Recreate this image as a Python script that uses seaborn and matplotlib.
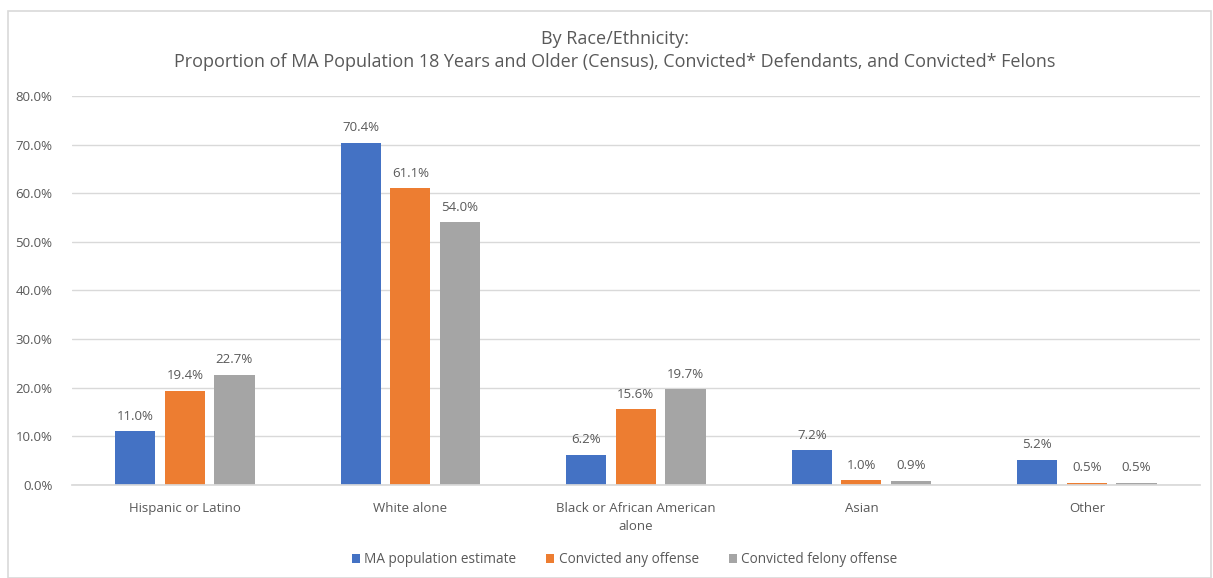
import matplotlib
matplotlib.use("Agg")
import matplotlib.pyplot as plt
import seaborn as sns
import pandas as pd
from matplotlib.patches import Rectangle
from matplotlib.ticker import FuncFormatter

categories = ["Hispanic or Latino", "White alone", "Black or African American\nalone", "Asian", "Other"]
series_names = ["MA population estimate", "Convicted any offense", "Convicted felony offense"]
ma_population = [11.0, 70.4, 6.2, 7.2, 5.2]
convicted_any = [19.4, 61.1, 15.6, 1.0, 0.5]
convicted_felony = [22.7, 54.0, 19.7, 0.9, 0.5]
colors = ["#4472C4", "#ED7D31", "#A5A5A5"]

rows = []
for name, vals in zip(series_names, [ma_population, convicted_any, convicted_felony]):
    for c, v in zip(categories, vals):
        rows.append({"Category": c, "Series": name, "Value": v})
df = pd.DataFrame(rows)

sns.set_theme(style="white")
plt.rcParams['font.family'] = ['Open Sans', 'DejaVu Sans']
txt = "#595959"

fig = plt.figure(figsize=(12.13, 5.78), dpi=100)
ax = fig.add_axes([0.0594, 0.161, 0.9296, 0.673])

sns.barplot(data=df, x="Category", y="Value", hue="Series", palette=colors,
            width=0.66, gap=0.19, ax=ax, saturation=1, legend=True, errorbar=None,
            linewidth=0, edgecolor="none")

for cont in ax.containers:
    ax.bar_label(cont, labels=[f"{v:.1f}%" for v in cont.datavalues], padding=6,
                 fontsize=9.5, color=txt)

ax.set_ylim(0, 80)
ax.set_yticks(range(0, 81, 10))
ax.yaxis.set_major_formatter(FuncFormatter(lambda v, p: f"{v:.1f}%"))
ax.grid(axis="y", color="#D9D9D9", linewidth=1)
ax.set_axisbelow(True)
for s in ["top", "right", "left"]:
    ax.spines[s].set_visible(False)
ax.spines["bottom"].set_color("#D9D9D9")
ax.tick_params(axis="both", length=0, labelsize=9.5, colors=txt)
ax.tick_params(axis="y", pad=14)
ax.tick_params(axis="x", pad=12)
for lab in ax.get_xticklabels():
    lab.set_linespacing(1.55)
ax.set_xlabel("")
ax.set_ylabel("")

leg = ax.legend(loc="center", bbox_to_anchor=(0.49, -0.192), ncol=3, frameon=False,
                fontsize=9.8, handlelength=0.6, handleheight=0.6, handletextpad=0.3,
                columnspacing=2.2)
for t in leg.get_texts():
    t.set_color(txt)

fig.text(0.507, 0.932, "By Race/Ethnicity:", ha="center", va="center", fontsize=13, color=txt)
fig.text(0.507, 0.893, "Proportion of MA Population 18 Years and Older (Census), Convicted* Defendants, and Convicted* Felons",
         ha="center", va="center", fontsize=13, color=txt)

fig.patches.append(Rectangle((8/1213, 0.0), 1 - 10/1213, 1 - 11/578, transform=fig.transFigure,
                             fill=False, edgecolor="#D9D9D9", linewidth=1.2))

fig.savefig("out.png", dpi=100)
